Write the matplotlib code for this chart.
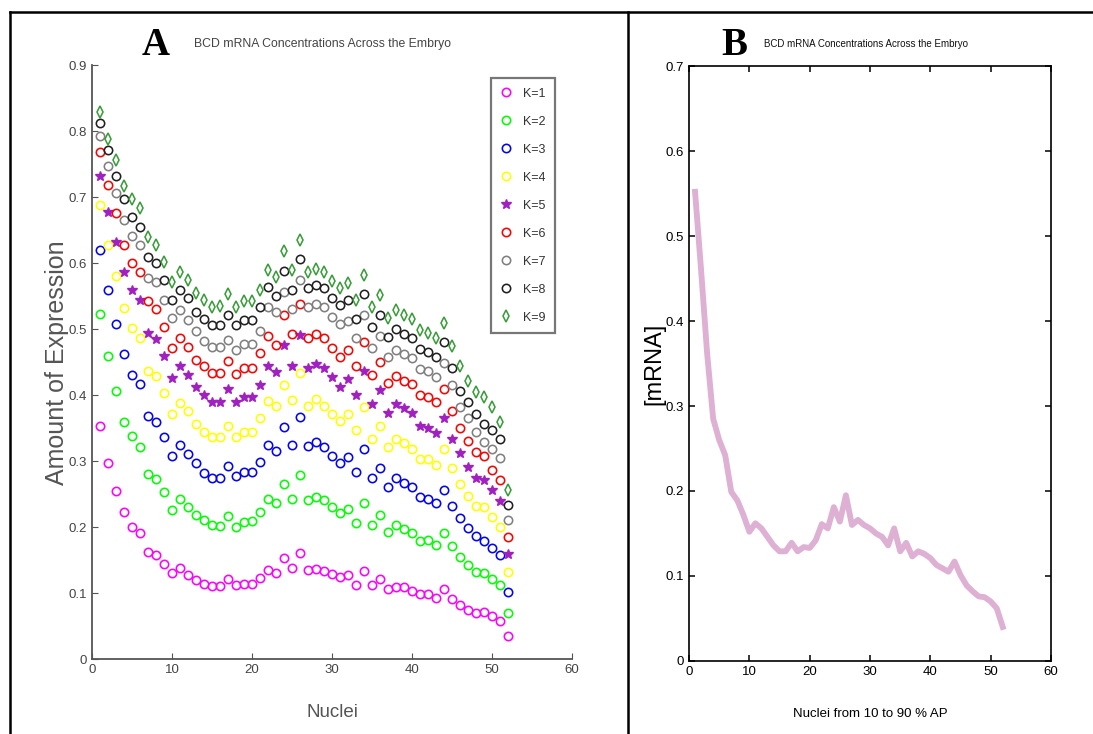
"""BCD mRNA concentrations across the embryo: panel A (K=1..9) and panel B."""
import matplotlib
matplotlib.use("Agg")
import matplotlib.pyplot as plt
from matplotlib.lines import Line2D

NARROW = ["Liberation Sans Narrow", "Liberation Sans", "DejaVu Sans"]
SANS = ["Liberation Sans", "DejaVu Sans"]
SERIF = ["Liberation Serif", "DejaVu Serif"]

nuclei = list(range(1, 53))

k1 = [0.353, 0.298, 0.255, 0.223, 0.200, 0.191, 0.163, 0.158, 0.144, 0.130,
      0.138, 0.127, 0.120, 0.114, 0.111, 0.111, 0.121, 0.112, 0.114, 0.114,
      0.123, 0.135, 0.131, 0.153, 0.138, 0.161, 0.135, 0.136, 0.134, 0.129,
      0.124, 0.127, 0.112, 0.134, 0.112, 0.121, 0.106, 0.110, 0.110, 0.103,
      0.098, 0.099, 0.092, 0.106, 0.091, 0.082, 0.075, 0.070, 0.072, 0.066,
      0.058, 0.035]
k2 = [0.523, 0.459, 0.407, 0.360, 0.338, 0.321, 0.281, 0.273, 0.253, 0.226,
      0.243, 0.230, 0.219, 0.211, 0.204, 0.202, 0.217, 0.200, 0.208, 0.210,
      0.223, 0.242, 0.237, 0.266, 0.242, 0.279, 0.241, 0.246, 0.241, 0.230,
      0.221, 0.228, 0.207, 0.236, 0.203, 0.218, 0.193, 0.204, 0.197, 0.191,
      0.179, 0.180, 0.173, 0.191, 0.171, 0.155, 0.143, 0.132, 0.131, 0.122,
      0.112, 0.070]
k3 = [0.620, 0.560, 0.508, 0.462, 0.430, 0.417, 0.368, 0.359, 0.337, 0.308,
      0.325, 0.311, 0.297, 0.282, 0.275, 0.275, 0.292, 0.278, 0.284, 0.284,
      0.299, 0.325, 0.315, 0.352, 0.325, 0.367, 0.323, 0.329, 0.322, 0.308,
      0.297, 0.306, 0.284, 0.318, 0.274, 0.290, 0.261, 0.274, 0.267, 0.261,
      0.246, 0.243, 0.236, 0.256, 0.232, 0.214, 0.199, 0.187, 0.179, 0.169,
      0.158, 0.102]
k4 = [0.688, 0.628, 0.580, 0.532, 0.502, 0.486, 0.436, 0.429, 0.403, 0.372,
      0.388, 0.376, 0.357, 0.345, 0.337, 0.337, 0.354, 0.337, 0.344, 0.344,
      0.365, 0.391, 0.383, 0.416, 0.392, 0.434, 0.384, 0.394, 0.384, 0.372,
      0.361, 0.372, 0.347, 0.382, 0.334, 0.354, 0.322, 0.333, 0.327, 0.318,
      0.304, 0.303, 0.294, 0.318, 0.290, 0.265, 0.248, 0.232, 0.231, 0.216,
      0.200, 0.132]
k5 = [0.733, 0.677, 0.632, 0.587, 0.560, 0.544, 0.495, 0.485, 0.459, 0.426,
      0.444, 0.430, 0.413, 0.400, 0.389, 0.389, 0.409, 0.390, 0.398, 0.398,
      0.415, 0.444, 0.435, 0.476, 0.445, 0.492, 0.441, 0.447, 0.441, 0.427,
      0.413, 0.424, 0.400, 0.437, 0.387, 0.408, 0.373, 0.387, 0.380, 0.373,
      0.354, 0.351, 0.343, 0.365, 0.334, 0.313, 0.291, 0.274, 0.271, 0.257,
      0.240, 0.159]
k6 = [0.769, 0.718, 0.676, 0.628, 0.601, 0.587, 0.543, 0.531, 0.504, 0.471,
      0.487, 0.473, 0.454, 0.444, 0.434, 0.434, 0.452, 0.432, 0.442, 0.442,
      0.464, 0.489, 0.476, 0.522, 0.493, 0.538, 0.486, 0.493, 0.486, 0.471,
      0.458, 0.468, 0.444, 0.481, 0.430, 0.450, 0.418, 0.429, 0.422, 0.417,
      0.400, 0.397, 0.390, 0.409, 0.376, 0.350, 0.330, 0.314, 0.308, 0.286,
      0.271, 0.185]
k7 = [0.793, 0.747, 0.706, 0.666, 0.642, 0.627, 0.578, 0.571, 0.544, 0.517,
      0.529, 0.514, 0.498, 0.482, 0.473, 0.473, 0.483, 0.468, 0.478, 0.478,
      0.498, 0.534, 0.526, 0.556, 0.530, 0.574, 0.533, 0.538, 0.533, 0.519,
      0.508, 0.513, 0.486, 0.522, 0.472, 0.490, 0.458, 0.469, 0.462, 0.456,
      0.440, 0.436, 0.428, 0.449, 0.415, 0.382, 0.365, 0.344, 0.329, 0.319,
      0.305, 0.211]
k8 = [0.812, 0.772, 0.732, 0.697, 0.670, 0.655, 0.609, 0.600, 0.574, 0.544,
      0.559, 0.547, 0.526, 0.515, 0.506, 0.506, 0.522, 0.506, 0.514, 0.514,
      0.534, 0.564, 0.550, 0.589, 0.560, 0.607, 0.562, 0.567, 0.562, 0.547,
      0.536, 0.545, 0.515, 0.553, 0.503, 0.522, 0.488, 0.500, 0.493, 0.486,
      0.470, 0.466, 0.458, 0.480, 0.442, 0.407, 0.390, 0.372, 0.357, 0.347,
      0.334, 0.233]
k9 = [0.829, 0.789, 0.756, 0.717, 0.698, 0.683, 0.640, 0.627, 0.602, 0.572,
      0.587, 0.574, 0.555, 0.544, 0.534, 0.535, 0.553, 0.533, 0.543, 0.543,
      0.560, 0.590, 0.579, 0.618, 0.590, 0.636, 0.587, 0.591, 0.586, 0.573,
      0.562, 0.570, 0.544, 0.582, 0.533, 0.552, 0.517, 0.529, 0.522, 0.515,
      0.499, 0.495, 0.487, 0.509, 0.474, 0.444, 0.422, 0.405, 0.398, 0.382,
      0.360, 0.257]

mrna = [0.552, 0.460, 0.362, 0.285, 0.260, 0.242, 0.199, 0.189, 0.172, 0.152,
        0.162, 0.156, 0.146, 0.136, 0.129, 0.129, 0.139, 0.129, 0.134, 0.133,
        0.142, 0.161, 0.156, 0.181, 0.164, 0.195, 0.160, 0.166, 0.160, 0.156,
        0.150, 0.146, 0.136, 0.156, 0.129, 0.139, 0.123, 0.129, 0.126, 0.121,
        0.113, 0.109, 0.105, 0.117, 0.101, 0.089, 0.082, 0.076, 0.075, 0.070,
        0.062, 0.040]

k_labels = ["K=1", "K=2", "K=3", "K=4", "K=5", "K=6", "K=7", "K=8", "K=9"]
k_series = [k1, k2, k3, k4, k5, k6, k7, k8, k9]
k_colors = ["#ff00ff", "#00ff00", "#0000ff", "#ffff00", "#a020c0",
            "#ff0000", "#808080", "#202020", "#3c9c3c"]
k_markers = ["o", "o", "o", "o", "*", "o", "o", "o", "d"]

fig = plt.figure(figsize=(10.93, 7.34), dpi=100)

# table borders around the two panels
for xs, ys in [([0.009, 1.0], [0.984, 0.984]),
               ([0.009, 0.009], [0.0, 0.984]),
               ([0.5745, 0.5745], [0.0, 0.984])]:
    fig.add_artist(Line2D(xs, ys, color="black", lw=1.8,
                          transform=fig.transFigure))

# ---- panel A ----
axa = fig.add_axes([0.0842, 0.102, 0.439, 0.809])
for ys, lab, col, mk in zip(k_series, k_labels, k_colors, k_markers):
    if mk == "*":
        axa.plot(nuclei, ys, ls="none", marker=mk, ms=7, mfc=col, mec=col,
                 label=lab)
    else:
        axa.plot(nuclei, ys, ls="none", marker=mk, ms=6 if mk == "o" else 5.8,
                 mfc="none", mec=col, mew=1.15, label=lab)
axa.set_xlim(0, 60)
axa.set_ylim(0, 0.9)
axa.set_xticks(range(0, 61, 10))
axa.set_yticks([i / 10 for i in range(10)])
axa.set_yticklabels(["0"] + [f"{i / 10:.1f}" for i in range(1, 10)])
axa.spines["top"].set_visible(False)
axa.spines["right"].set_visible(False)
for s in ("left", "bottom"):
    axa.spines[s].set_color("#555555")
    axa.spines[s].set_linewidth(1.3)
axa.tick_params(direction="in", length=4, colors="#555555",
                labelcolor="#444444", labelsize=9.5)
for t in axa.get_xticklabels() + axa.get_yticklabels():
    t.set_family(NARROW)
axa.set_xlabel("Nuclei", family=SANS, fontsize=13.5, color="#555555",
               labelpad=20)
axa.set_ylabel("Amount of Expression", family=SANS, fontsize=18,
               color="#555555", labelpad=0)
leg = axa.legend(loc="upper right", bbox_to_anchor=(0.965, 0.978),
                 borderaxespad=0, frameon=True, fancybox=False,
                 prop={"family": NARROW, "size": 9},
                 labelspacing=1.28, handlelength=0.8, handletextpad=1.0,
                 borderpad=0.75)
leg.get_frame().set_edgecolor("#555555")
leg.get_frame().set_linewidth(1.6)
for t in leg.get_texts():
    t.set_color("#333333")

fig.text(0.142, 0.938, "A", family=SERIF, weight="bold", fontsize=28,
         ha="center", va="center")
fig.text(0.295, 0.940, "BCD mRNA Concentrations Across the Embryo",
         family=NARROW, fontsize=8.8, color="#444444", ha="center",
         va="center")

# ---- panel B ----
axb = fig.add_axes([0.6304, 0.0995, 0.3312, 0.8105])
axb.plot(nuclei, mrna, color="#ddb0d4", lw=4.2, solid_joinstyle="round")
axb.set_xlim(0, 60)
axb.set_ylim(0, 0.7)
axb.set_xticks(range(0, 61, 10))
axb.set_yticks([i / 10 for i in range(8)])
axb.set_yticklabels(["0"] + [f"{i / 10:.1f}" for i in range(1, 8)])
axb.tick_params(direction="in", length=4, top=True, right=True,
                labelsize=9.5, width=1.1)
for s in axb.spines.values():
    s.set_linewidth(1.2)
for t in axb.get_xticklabels() + axb.get_yticklabels():
    t.set_family(NARROW)
axb.set_xlabel("Nuclei from 10 to 90 % AP", family=NARROW, fontsize=9.5,
               labelpad=22)
axb.set_ylabel("[mRNA]", family=SANS, fontsize=17, labelpad=0)

fig.text(0.672, 0.938, "B", family=SERIF, weight="bold", fontsize=28,
         ha="center", va="center")
fig.text(0.792, 0.940, "BCD mRNA Concentrations Across the Embryo",
         family=NARROW, fontsize=7, color="#111111", ha="center",
         va="center")

fig.savefig("out.png", dpi=100)
